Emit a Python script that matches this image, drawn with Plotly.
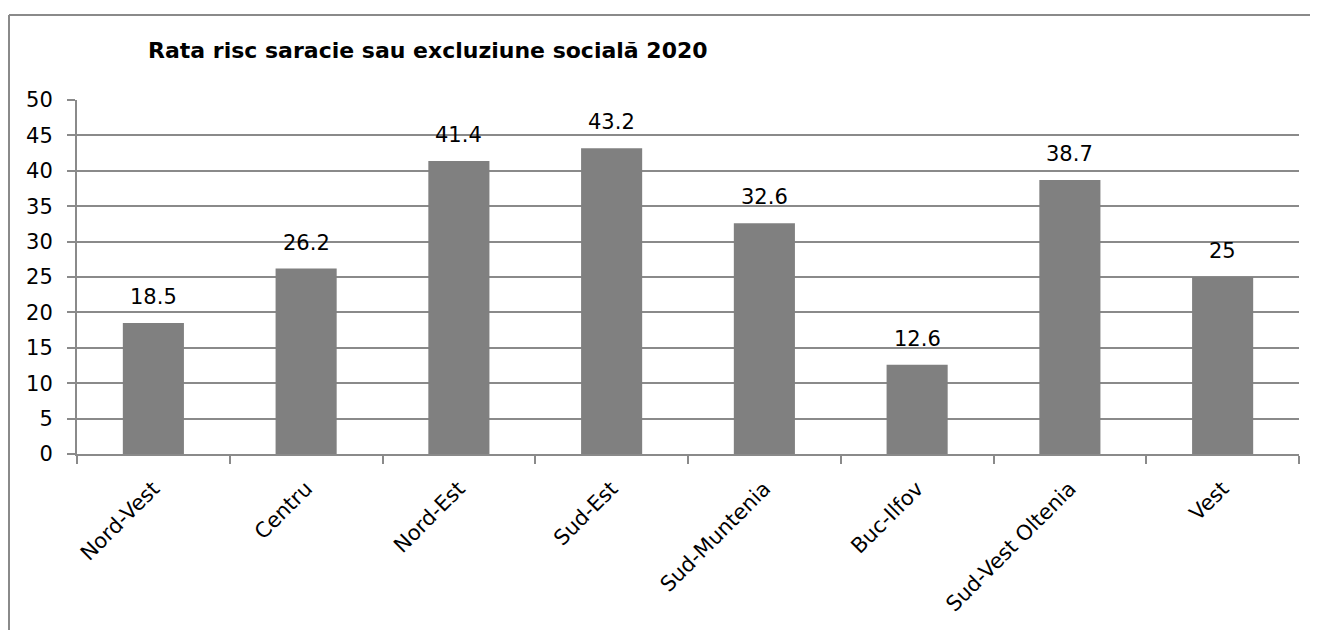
import plotly.graph_objects as go

# Regiuni si rata riscului de saracie sau excluziune sociala (2020)
regiuni = ["Nord-Vest", "Centru", "Nord-Est", "Sud-Est", "Sud-Muntenia",
           "Buc-Ilfov", "Sud-Vest Oltenia", "Vest"]
rata = [18.5, 26.2, 41.4, 43.2, 32.6, 12.6, 38.7, 25]
y_ticks = [0, 5, 10, 15, 20, 25, 30, 35, 40, 45, 50]

FONT = "DejaVu Sans"
GRID = "#8a8a8a"

fig = go.Figure()
fig.add_bar(x=regiuni, y=rata, marker=dict(color="#808080", line=dict(width=0)))

# etichete de valoare deasupra barelor
for reg, val in zip(regiuni, rata):
    fig.add_annotation(x=reg, y=val, text=str(val), showarrow=False,
                       yanchor="bottom", yshift=12,
                       font=dict(family=FONT, size=21, color="#000"))

# page body has an 8px margin: the figure starts 8px in, so the margins are shifted by that
W, H = 1318, 630
ml, mr, mt, mb = 69, 27, 92, 184
pw, ph = W - ml - mr, H - mt - mb

def px_x(px):
    return (px - ml) / pw

def px_y(py):
    return 1 - (py - mt) / ph

fig.update_layout(
    width=W, height=H,
    margin=dict(l=ml, r=mr, t=mt, b=mb),
    paper_bgcolor="white", plot_bgcolor="white",
    showlegend=False, bargap=0.6,
    font=dict(family=FONT, size=21, color="#000"),
    title=dict(text="<b>Rata risc saracie sau excluziune socială 2020</b>",
               font=dict(family=FONT, size=22, color="#000"),
               xref="paper", x=px_x(140), xanchor="left",
               yref="container", y=1 - 42 / H, yanchor="middle"),
    xaxis=dict(type="category", tickangle=-45, ticks="outside", tickson="boundaries",
               ticklen=8, tickcolor=GRID, tickwidth=2, showgrid=False,
               showline=True, linecolor=GRID, linewidth=2, ticklabelstandoff=12,
               tickfont=dict(family=FONT, size=21, color="#000")),
    yaxis=dict(range=[0, 50], tickvals=y_ticks, ticks="outside", ticklen=8,
               tickcolor=GRID, tickwidth=2, showgrid=True, gridcolor=GRID, gridwidth=2,
               showline=True, linecolor=GRID, linewidth=2, zeroline=False,
               ticklabelstandoff=10,
               tickfont=dict(family=FONT, size=21, color="#000")),
    shapes=[
        dict(type="line", xref="paper", yref="paper",
             x0=px_x(1), x1=px_x(1330), y0=px_y(7), y1=px_y(7),
             line=dict(color=GRID, width=2)),
        dict(type="line", xref="paper", yref="paper",
             x0=px_x(1), x1=px_x(1), y0=px_y(7), y1=px_y(640),
             line=dict(color=GRID, width=2)),
    ],
)

fig.write_html("out.html")
